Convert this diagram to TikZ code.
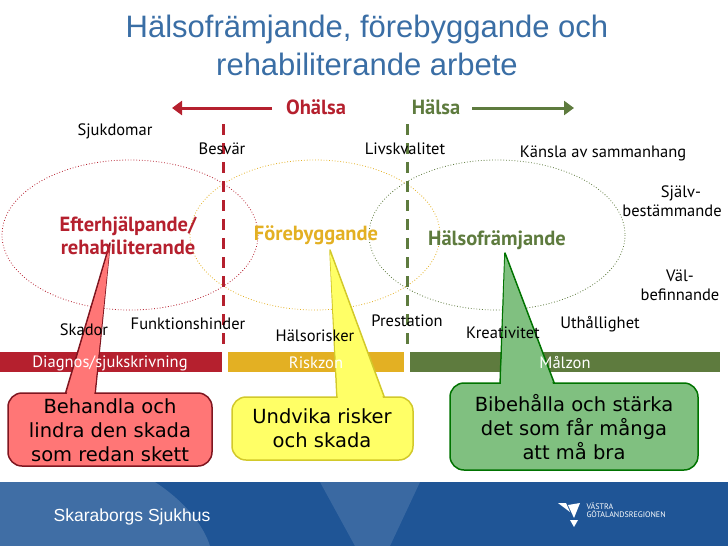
\documentclass[tikz,border=0pt]{standalone}
\usepackage{fontspec}
\usetikzlibrary{arrows.meta}
\setmainfont{PT Sans}
\newfontfamily\callfont{DejaVu Sans}
\newfontfamily\titlefont{Liberation Sans}
\definecolor{ohred}{HTML}{B5202E}
\definecolor{riskyel}{HTML}{E3B023}
\definecolor{malgreen}{HTML}{5E7B3E}
\definecolor{footblue}{HTML}{1F5596}
\definecolor{titleblue}{HTML}{3A6EA5}
\definecolor{bubred}{HTML}{FF7676}
\definecolor{bubyel}{HTML}{FFFF66}
\definecolor{bubgreen}{HTML}{80C080}
\tikzset{
  word/.style={font=\fontsize{16.5}{19}\selectfont,align=center},
  zone/.style={font=\fontsize{20.5}{23}\selectfont\bfseries,align=center},
  bartxt/.style={font=\fontsize{16.5}{18}\selectfont,text=white},
  calltxt/.style={font=\callfont\fontsize{19.5}{24}\selectfont,align=center},
}
\begin{document}
\begin{tikzpicture}[x=1pt,y=-1pt]
    \useasboundingbox (0,0) rectangle (728,546);
    %Titel
    \node[font=\titlefont\fontsize{31}{38}\selectfont,text=titleblue,align=center] (titel) at (367,45)
        {Hälsofrämjande, förebyggande och\\rehabiliterande arbete};

    %Pilar
    \draw[ohred,line width=3pt,-{Triangle[length=10pt,width=14pt]}] (272,108) -- (172,108);
    \draw[malgreen,line width=3pt,-{Triangle[length=10pt,width=14pt]}] (472,108) -- (574,108);
    \node[zone,text=ohred] (ohalsa) at (316,107) {Ohälsa};
    \node[zone,text=malgreen] (halsa) at (436,107) {Hälsa};

    %Ellipser
    \draw[ohred,dotted,thick] (130,235) ellipse (128 and 75);
    \draw[riskyel,dotted,thick] (315,235) ellipse (125 and 75);
    \draw[malgreen,dotted,thick] (497,235) ellipse (128 and 75);

    %Streckade linjer
    \draw[ohred,line width=3pt,dash pattern=on 11pt off 8pt] (223,124) -- (223,350);
    \draw[malgreen,line width=3pt,dash pattern=on 11pt off 8pt] (407,124) -- (407,350);

    %Zoner
    \fill[ohred] (0,352) rectangle (222,372);
    \fill[riskyel] (228,352) rectangle (404,372);
    \fill[malgreen] (410,352) rectangle (720,372);

    %Pratbubblor
    \foreach \fc/\dc/\xa/\xb/\tx/\ty/\xl/\yt/\xr/\yb in
        {bubred/ohred!70!black/65/95/110/243/8/393/212/466,
         bubyel/yellow!80!black/337/385/330/250/232/397/413/460,
         bubgreen/green!45!black/500/555/505/253/450/383/698/470}{
        \filldraw[fill=\fc,draw=\dc,line width=1.5pt,line join=round] (\xa,\yt+2) -- (\tx,\ty) -- (\xb,\yt+2);
        \filldraw[fill=\fc,draw=\dc,line width=1.5pt,rounded corners=14pt] (\xl,\yt) rectangle (\xr,\yb);
        \fill[\fc] (\xa+1,\yt+4) -- (\tx,\ty+3) -- (\xb-1,\yt+4) -- cycle;
    }
    \node[calltxt] (behandla) at (110,430) {Behandla och\\lindra den skada\\som redan skett};
    \node[calltxt] (undvika) at (322,428) {Undvika risker\\och skada};
    \node[calltxt] (bibeh) at (574,427) {Bibehålla och stärka\\det som får många\\att må bra};

    \node[bartxt] (diag) at (110,363) {Diagnos/sjukskrivning};
    \node[bartxt] (risk) at (316,363) {Riskzon};
    \node[bartxt] (malz) at (565,363) {Målzon};

    %Ord
    \node[word] (sjuk) at (115,131) {Sjukdomar};
    \node[word] (besvar) at (222,149) {Besvär};
    \node[word] (livs) at (405,149) {Livskvalitet};
    \node[word] (kansla) at (603,153) {Känsla av sammanhang};
    \node[word] (sjalv) at (672,201) {\hspace*{18pt}Själv-\\bestämmande};
    \node[word] (val) at (680,285) {Väl-\\befinnande};
    \node[word] (skador) at (84,330) {Skador};
    \node[word] (funk) at (188,324) {Funktionshinder};
    \node[word] (risker) at (315,336) {Hälsorisker};
    \node[word] (prest) at (407,321) {Prestation};
    \node[word] (kreat) at (503,333) {Kreativitet};
    \node[word] (uthall) at (600,324) {Uthållighet};

    \node[zone,text=ohred] (efter) at (128,236) {Efterhjälpande/\\rehabiliterande};
    \node[zone,text=riskyel] (fore) at (316,235) {Förebyggande};
    \node[zone,text=malgreen] (halsofr) at (497,240) {Hälsofrämjande};

    %Sidfot
    \fill[footblue] (0,482) rectangle (728,546);
    \fill[white,opacity=0.15] (0,482) -- (155,482) .. controls (190,505) and (205,530) .. (210,546) -- (0,546) -- cycle;
    \fill[white,opacity=0.12] (320,482) -- (420,482) -- (390,546) -- (355,546) -- cycle;
    \node[font=\titlefont\fontsize{17.5}{20}\selectfont,text=white] (sjukhus) at (132,517) {Skaraborgs Sjukhus};
    \fill[white] (558,503) -- (566,503) -- (570,512) -- cycle (568,505) -- (580,503) -- (574,518) -- cycle (570,520) -- (578,520) -- (574,527) -- cycle;
    \node[font=\fontsize{8}{8.5}\selectfont,text=white,align=left,anchor=west] (vgr) at (583,510) {VÄSTRA\\GÖTALANDSREGIONEN};
\end{tikzpicture}
\end{document}
